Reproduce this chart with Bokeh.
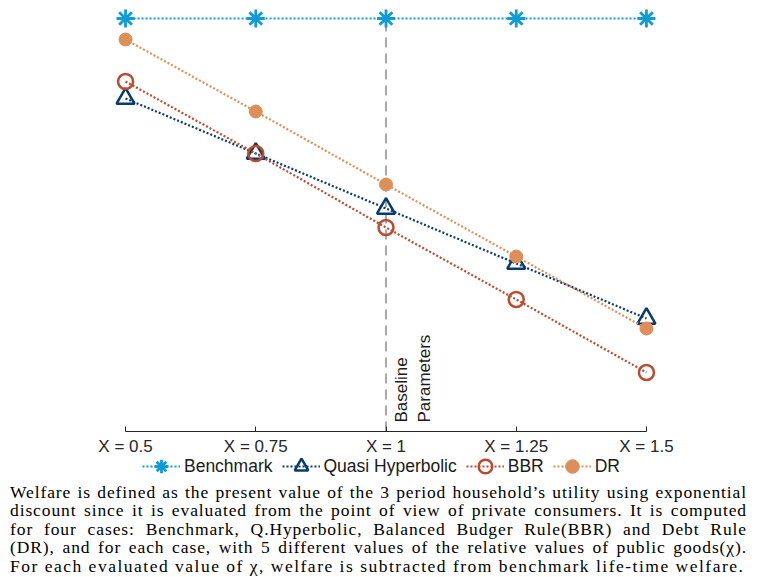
from math import pi
from bokeh.plotting import figure
from bokeh.models import Range1d, FixedTicker, Legend, LegendItem, Div
from bokeh.layouts import column
from bokeh.core.properties import value
from bokeh.embed import file_html
from bokeh.resources import INLINE

# ---- data ----
chi = [0.5, 0.75, 1.0, 1.25, 1.5]
tick_labels = ["X = 0.5", "X = 0.75", "X = 1", "X = 1.25", "X = 1.5"]
benchmark = [0.0, 0.0, 0.0, 0.0, 0.0]
quasi_hyperbolic = [-0.80, -1.35, -1.90, -2.45, -3.00]
bbr = [-0.63, -1.35, -2.09, -2.81, -3.54]
dr = [-0.21, -0.93, -1.66, -2.38, -3.10]
baseline_chi = 1.0
baseline_text = "Baseline\nParameters"
series_names = ["Benchmark", "Quasi Hyperbolic", "BBR", "DR"]
caption_lines = [
    "Welfare is defined as the present value of the 3 period household\u2019s utility using exponential",
    "discount since it is evaluated from the point of view of private consumers. It is computed",
    "for four cases: Benchmark, Q.Hyperbolic, Balanced Budger Rule(BBR) and Debt Rule",
    "(DR), and for each case, with 5 different values of the relative values of public goods(\u03c7).",
    "For each evaluated value of \u03c7, welfare is subtracted from benchmark life-time welfare.",
]

Y_MIN, Y_MAX = -4.13, 0.10

c_bench = "#0e9cd8"
c_qh = "#073b6f"
c_bbr = "#bc4a2e"
c_dr = "#de8f59"
axis_col = "#262626"

p = figure(frame_width=573, frame_height=423, output_backend="svg", toolbar_location=None,
           x_range=Range1d(0.45, 1.55), y_range=Range1d(Y_MIN, Y_MAX),
           min_border_left=99, min_border_right=90, min_border_top=8,
           min_border_bottom=26)
p.outline_line_color = None
p.xgrid.visible = False
p.ygrid.visible = False
p.yaxis.visible = False
p.background_fill_color = "white"
p.border_fill_color = "white"

xa = p.xaxis[0]
xa.ticker = FixedTicker(ticks=chi)
xa.major_label_overrides = {c: l for c, l in zip(chi, tick_labels)}
xa.bounds = (chi[0], chi[-1])
xa.axis_line_color = axis_col
xa.axis_line_width = 1
xa.major_tick_line_color = axis_col
xa.major_tick_in = 5
xa.major_tick_out = 0
xa.minor_tick_line_color = None
xa.major_label_standoff = 5
xa.major_label_text_font = "Liberation Sans"
xa.major_label_text_font_size = "17px"
xa.major_label_text_color = axis_col

# baseline dashed line
p.segment(x0=[baseline_chi], y0=[Y_MIN], x1=[baseline_chi], y1=[benchmark[2]],
          line_color="#8c8c8c", line_width=1.5, line_dash="10 6")
p.text(x=[baseline_chi], y=[Y_MIN], text=[baseline_text], angle=pi / 2,
       x_offset=6, y_offset=-9, text_align="left", text_baseline="top",
       text_font=value("Liberation Sans"), text_font_size="17px",
       text_color="#1a1a1a", text_line_height=1.2)

# legend lives in its own small figure below the axis; its ranges are chosen
# so that the (real) series data stay out of view there
pl = figure(frame_width=762, frame_height=38, output_backend="svg", toolbar_location=None,
            x_range=Range1d(0, 1), y_range=Range1d(100, 101),
            x_axis_type=None, y_axis_type=None,
            min_border_left=0, min_border_right=0, min_border_top=0, min_border_bottom=0,
            styles={"margin-top": "-9px"})
pl.outline_line_color = None
pl.xgrid.visible = False
pl.ygrid.visible = False
pl.background_fill_alpha = 0
pl.border_fill_alpha = 0

items = []
def add_series(ys, color, marker, size, lw, fill, name):
    kw_line = dict(line_color=color, line_width=2.2, line_dash="2 2")
    kw_mark = dict(marker=marker, size=size, line_color=color,
                   line_width=lw, fill_color=color if fill else None)
    p.line(chi, ys, **kw_line)
    p.scatter(chi, ys, **kw_mark)
    lr = pl.line(chi, ys, **kw_line)
    sr = pl.scatter(chi, ys, **kw_mark)
    items.append(LegendItem(label=name, renderers=[lr, sr]))

add_series(benchmark, c_bench, "asterisk", 18, 2.8, False, series_names[0])
add_series(quasi_hyperbolic, c_qh, "triangle", 18, 2.5, False, series_names[1])
add_series(bbr, c_bbr, "circle", 15, 2.5, False, series_names[2])
add_series(dr, c_dr, "circle", 13, 1, True, series_names[3])

legend = Legend(items=items, orientation="horizontal", location="top_center",
                glyph_width=38, glyph_height=34, label_standoff=4, spacing=9,
                padding=0, margin=0, border_line_color=None,
                background_fill_alpha=0,
                label_text_font="Liberation Sans", label_text_font_size="17.5px",
                label_text_color="#1a1a1a")
pl.add_layout(legend, "center")

base_style = ("font-family:'Liberation Serif';font-size:17.5px;line-height:18.4px;"
              "white-space:nowrap;color:#000;")
html = ""
for i, ln in enumerate(caption_lines):
    if i < len(caption_lines) - 1:
        html += (f'<div style="{base_style}letter-spacing:0.9px;text-align:justify;'
                 f'text-align-last:justify;">{ln}</div>')
    else:
        html += f'<div style="{base_style}letter-spacing:1.5px;text-align:left;">{ln}</div>'
div = Div(text=f'<div style="width:747px;padding-left:10px;">{html}</div>',
          width=762, styles={"margin": "0", "margin-top": "-4px"})

layout = column(p, pl, div, spacing=0)
open("out.html", "w").write(file_html(layout, INLINE))
